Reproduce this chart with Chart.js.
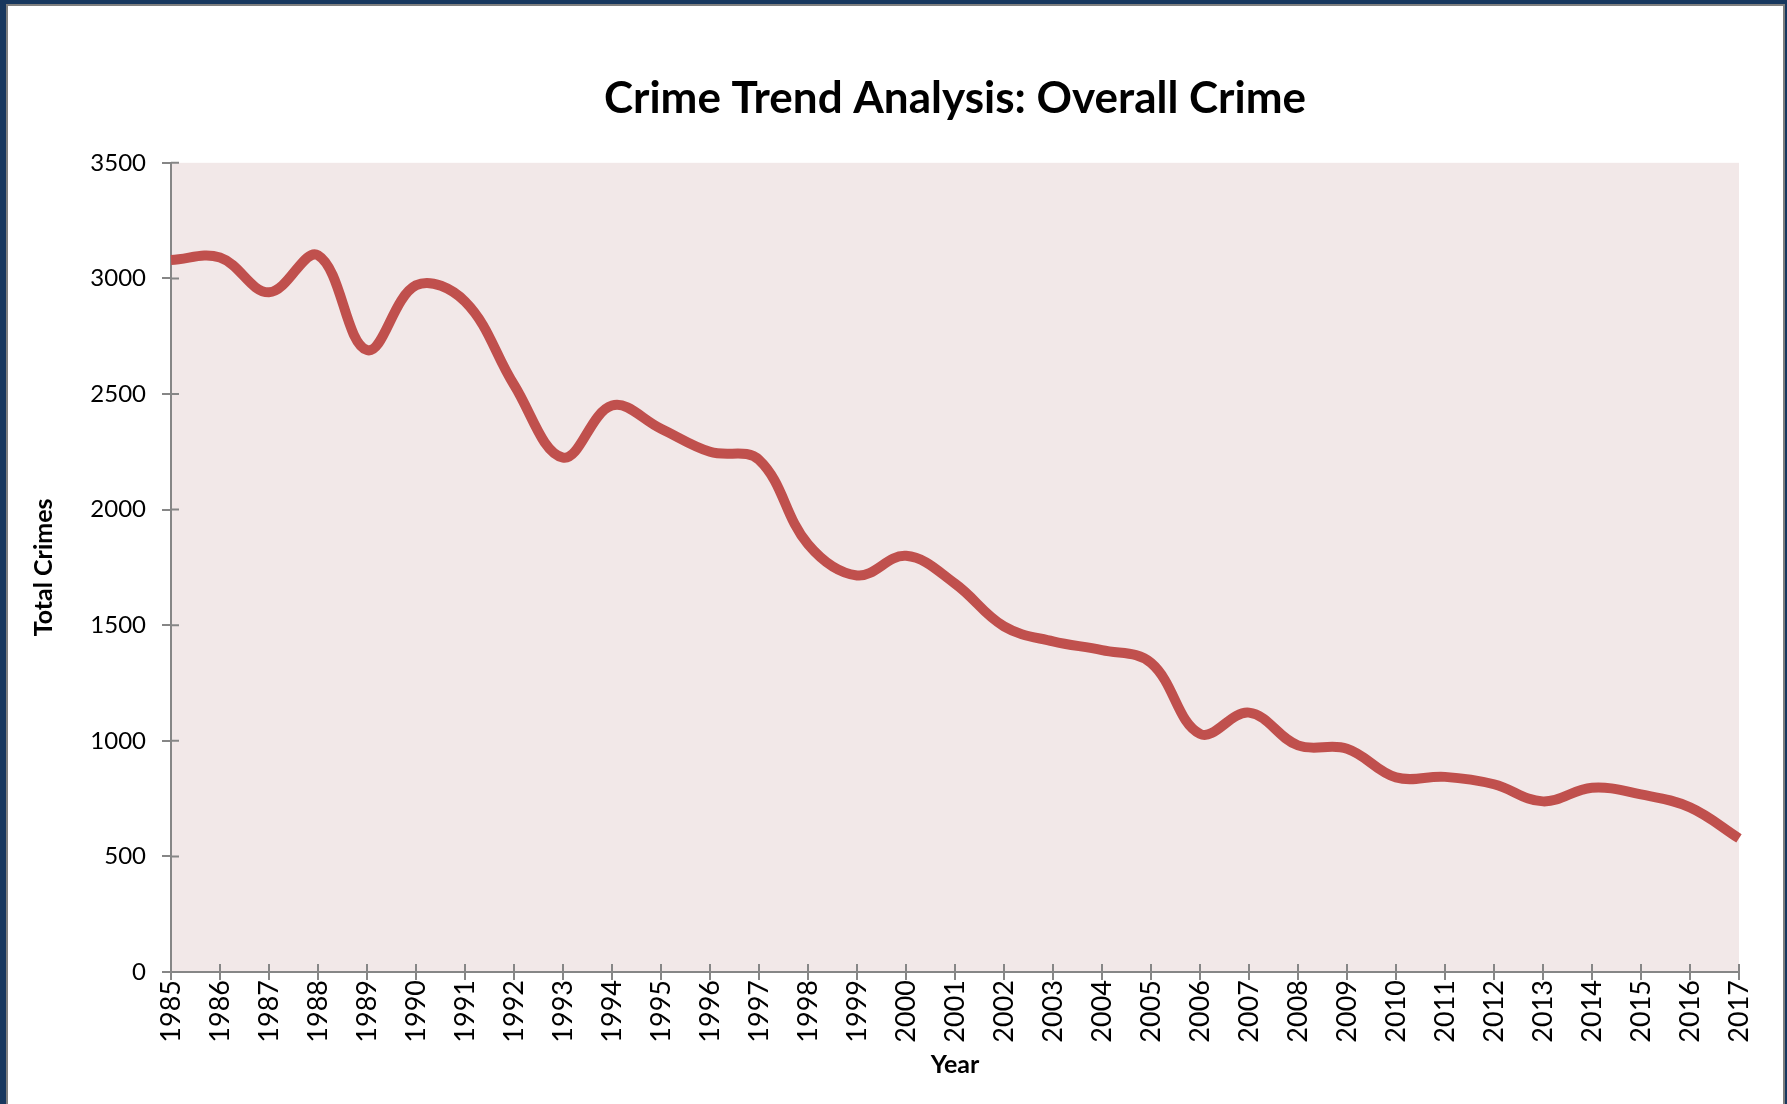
<!DOCTYPE html>
<html lang="en">
<head>
    <meta charset="UTF-8">
    <title>Crime Trend Analysis: Overall Crime</title>
    <script src="https://cdn.jsdelivr.net/npm/chart.js"></script>
    <style>
        body {
            margin: 0;
            width: 1787px;
            height: 1104px;
            overflow: hidden;
            background-color: #17375E;
            position: relative;
        }

        #frame {
            position: absolute;
            left: 6px;
            top: 4px;
            width: 1779px;
            height: 1110px;
            box-sizing: border-box;
            border: 2px solid #7f7f7f;
            background-color: #fff;
        }

        canvas {
            display: block;
        }
    </style>
</head>
<body>
    <div id="frame">
        <canvas id="crimeChart" width="1775" height="1098"></canvas>
    </div>

    <script>
        const years = ['1985', '1986', '1987', '1988', '1989', '1990', '1991', '1992', '1993', '1994', '1995',
            '1996', '1997', '1998', '1999', '2000', '2001', '2002', '2003', '2004', '2005', '2006',
            '2007', '2008', '2009', '2010', '2011', '2012', '2013', '2014', '2015', '2016', '2017'];
        const totalCrimes = [3080, 3090, 2940, 3100, 2690, 2970, 2900, 2540, 2225, 2450, 2350,
            2250, 2215, 1850, 1715, 1800, 1680, 1495, 1430, 1392, 1337, 1030,
            1122, 980, 966, 842, 844, 812, 738, 797, 768, 712, 578];
        const yMin = 0;
        const yMax = 3500;
        const yStep = 500;

        const AXIS_COLOR = '#868686';
        const FONT = 'Lato, "Open Sans", sans-serif';

        // shaded plot area
        const plotBackground = {
            id: 'plotBackground',
            beforeDraw(chart) {
                const { ctx, chartArea } = chart;
                ctx.save();
                ctx.fillStyle = '#F2E8E8';
                ctx.fillRect(chartArea.left, chartArea.top, chartArea.right - chartArea.left, chartArea.bottom - chartArea.top);
                ctx.restore();
            }
        };

        // Excel style tick marks cross the axis, so add the inner half
        const innerTicks = {
            id: 'innerTicks',
            beforeDatasetsDraw(chart) {
                const { ctx, chartArea, scales: { x, y } } = chart;
                ctx.save();
                ctx.strokeStyle = AXIS_COLOR;
                ctx.lineWidth = 2;
                ctx.beginPath();
                x.ticks.forEach((t, i) => {
                    const px = x.getPixelForTick(i);
                    ctx.moveTo(px, chartArea.bottom);
                    ctx.lineTo(px, chartArea.bottom - 8);
                });
                y.ticks.forEach((t, i) => {
                    const py = y.getPixelForTick(i);
                    ctx.moveTo(chartArea.left, py);
                    ctx.lineTo(chartArea.left + 8, py);
                });
                ctx.stroke();
                ctx.restore();
            }
        };

        const ctx = document.getElementById('crimeChart').getContext('2d');

        new Chart(ctx, {
            type: 'line',
            data: {
                labels: years,
                datasets: [{
                    label: 'Total Crimes',
                    data: totalCrimes,
                    borderColor: '#C0504D',
                    borderWidth: 10,
                    pointRadius: 0,
                    tension: 0.38,
                    fill: false
                }]
            },
            options: {
                responsive: false,
                devicePixelRatio: 1,
                animation: false,
                layout: {
                    padding: { left: 0, right: 44, top: 0, bottom: 12 }
                },
                plugins: {
                    legend: { display: false },
                    tooltip: { enabled: false },
                    title: {
                        display: true,
                        text: 'Crime Trend Analysis: Overall Crime',
                        fullSize: false,
                        color: '#000',
                        font: { family: FONT, size: 44, weight: 'bold' },
                        padding: { top: 66, bottom: 38 }
                    }
                },
                scales: {
                    x: {
                        offset: false,
                        border: { color: AXIS_COLOR, width: 2 },
                        grid: {
                            drawOnChartArea: false,
                            color: AXIS_COLOR,
                            lineWidth: 2,
                            tickLength: 8
                        },
                        ticks: {
                            color: '#000',
                            font: { family: FONT, size: 27 },
                            minRotation: 90,
                            maxRotation: 90,
                            autoSkip: false,
                            padding: 0
                        },
                        title: {
                            display: true,
                            text: 'Year',
                            color: '#000',
                            font: { family: FONT, size: 25, weight: 'bold' },
                            padding: { top: 0, bottom: 12 }
                        },
                        afterFit(scale) { scale.height = 120; }
                    },
                    y: {
                        min: yMin,
                        max: yMax,
                        border: { color: AXIS_COLOR, width: 2 },
                        grid: {
                            drawOnChartArea: false,
                            color: AXIS_COLOR,
                            lineWidth: 2,
                            tickLength: 9
                        },
                        ticks: {
                            stepSize: yStep,
                            color: '#000',
                            font: { family: FONT, size: 24 },
                            padding: 16,
                            callback: value => String(value)
                        },
                        title: {
                            display: true,
                            text: 'Total Crimes',
                            color: '#000',
                            font: { family: FONT, size: 25, weight: 'bold' },
                            padding: { top: 21, bottom: 0 }
                        },
                        afterFit(scale) { scale.width = 163; }
                    }
                }
            },
            plugins: [plotBackground, innerTicks]
        });
    </script>
</body>
</html>
